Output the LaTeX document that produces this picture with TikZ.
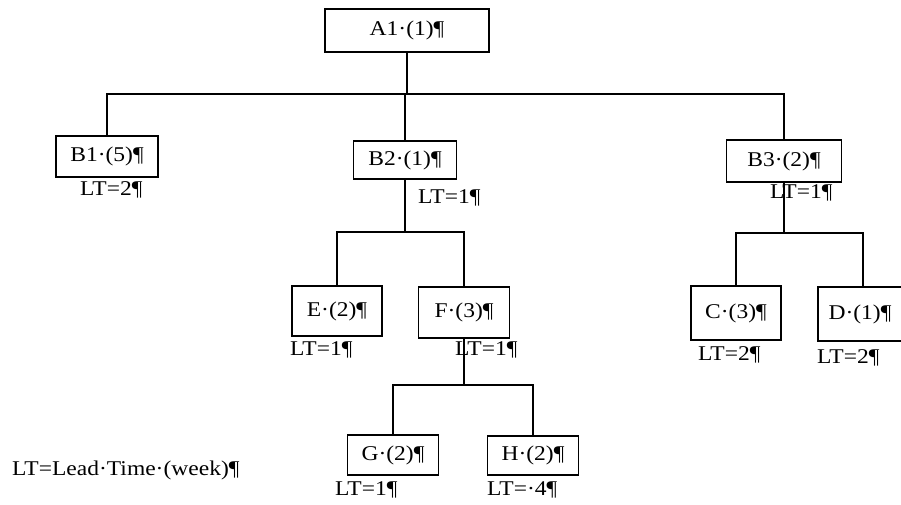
\documentclass[tikz,border=0pt]{standalone}
\usepackage{fontspec}
\setmainfont{Liberation Serif}[FakeStretch=1.12]
\begin{document}
\begin{tikzpicture}[x=1pt,y=-1pt,
  txt/.style={font=\fontsize{21}{24}\selectfont},
  box/.style={draw, line width=1.3pt, inner sep=0pt, txt},
  lt/.style={anchor=west, inner sep=0pt, txt},
  link/.style={line width=1.1pt}]
\useasboundingbox (0,0) rectangle (901,505);

% item boxes
\node[box, minimum width=164pt, minimum height=43pt] (a1) at (407,30.5) {A1·(1)¶};
\node[box, minimum width=102pt, minimum height=41pt] (b1) at (107,156.5) {B1·(5)¶};
\node[box, minimum width=103pt, minimum height=38pt] (b2) at (405,160) {B2·(1)¶};
\node[box, minimum width=115pt, minimum height=42pt] (b3) at (784,161) {B3·(2)¶};
\node[box, minimum width=90pt, minimum height=50pt] (e) at (337,311) {E·(2)¶};
\node[box, minimum width=91pt, minimum height=51pt] (f) at (464,312.5) {F·(3)¶};
\node[box, minimum width=90pt, minimum height=54pt] (c) at (736,313) {C·(3)¶};
\node[box, minimum width=84pt, minimum height=54pt] (d) at (860,314) {D·(1)¶};
\node[box, minimum width=91pt, minimum height=40pt] (g) at (393,455) {G·(2)¶};
\node[box, minimum width=91pt, minimum height=39pt] (h) at (533,455.5) {H·(2)¶};

% lead time labels
\node[lt] (ltb1) at (80,190) {LT=2¶};
\node[lt] (ltb2) at (418,198) {LT=1¶};
\node[lt] (ltb3) at (770,193) {LT=1¶};
\node[lt] (lte) at (290,350) {LT=1¶};
\node[lt] (ltf) at (455,350) {LT=1¶};
\node[lt] (ltc) at (698,355) {LT=2¶};
\node[lt] (ltd) at (817,358) {LT=2¶};
\node[lt] (ltg) at (335,490) {LT=1¶};
\node[lt] (lth) at (487,490) {LT=·4¶};
\node[lt] (legend) at (12,470) {LT=Lead·Time·(week)¶};

% bus levels
\coordinate (busA) at (407,94);
\coordinate (busB) at (405,232);
\coordinate (busB3) at (784,233);
\coordinate (busF) at (464,385);

% connectors
\draw[link] (a1.south) -- (busA);
\draw[link] (b1.north) -- (b1.north |- busA) -- (b3.north |- busA) -- (b3.north);
\draw[link] (b2.north) -- (b2.north |- busA);
\draw[link] (b2.south) -- (busB);
\draw[link] (e.north) -- (e.north |- busB) -- (f.north |- busB) -- (f.north);
\draw[link] (b3.south) -- (busB3);
\draw[link] (c.north) -- (c.north |- busB3) -- ([xshift=3pt]d.north |- busB3) -- ([xshift=3pt]d.north);
\draw[link] (f.south) -- (busF);
\draw[link] (g.north) -- (g.north |- busF) -- (h.north |- busF) -- (h.north);
\end{tikzpicture}
\end{document}
